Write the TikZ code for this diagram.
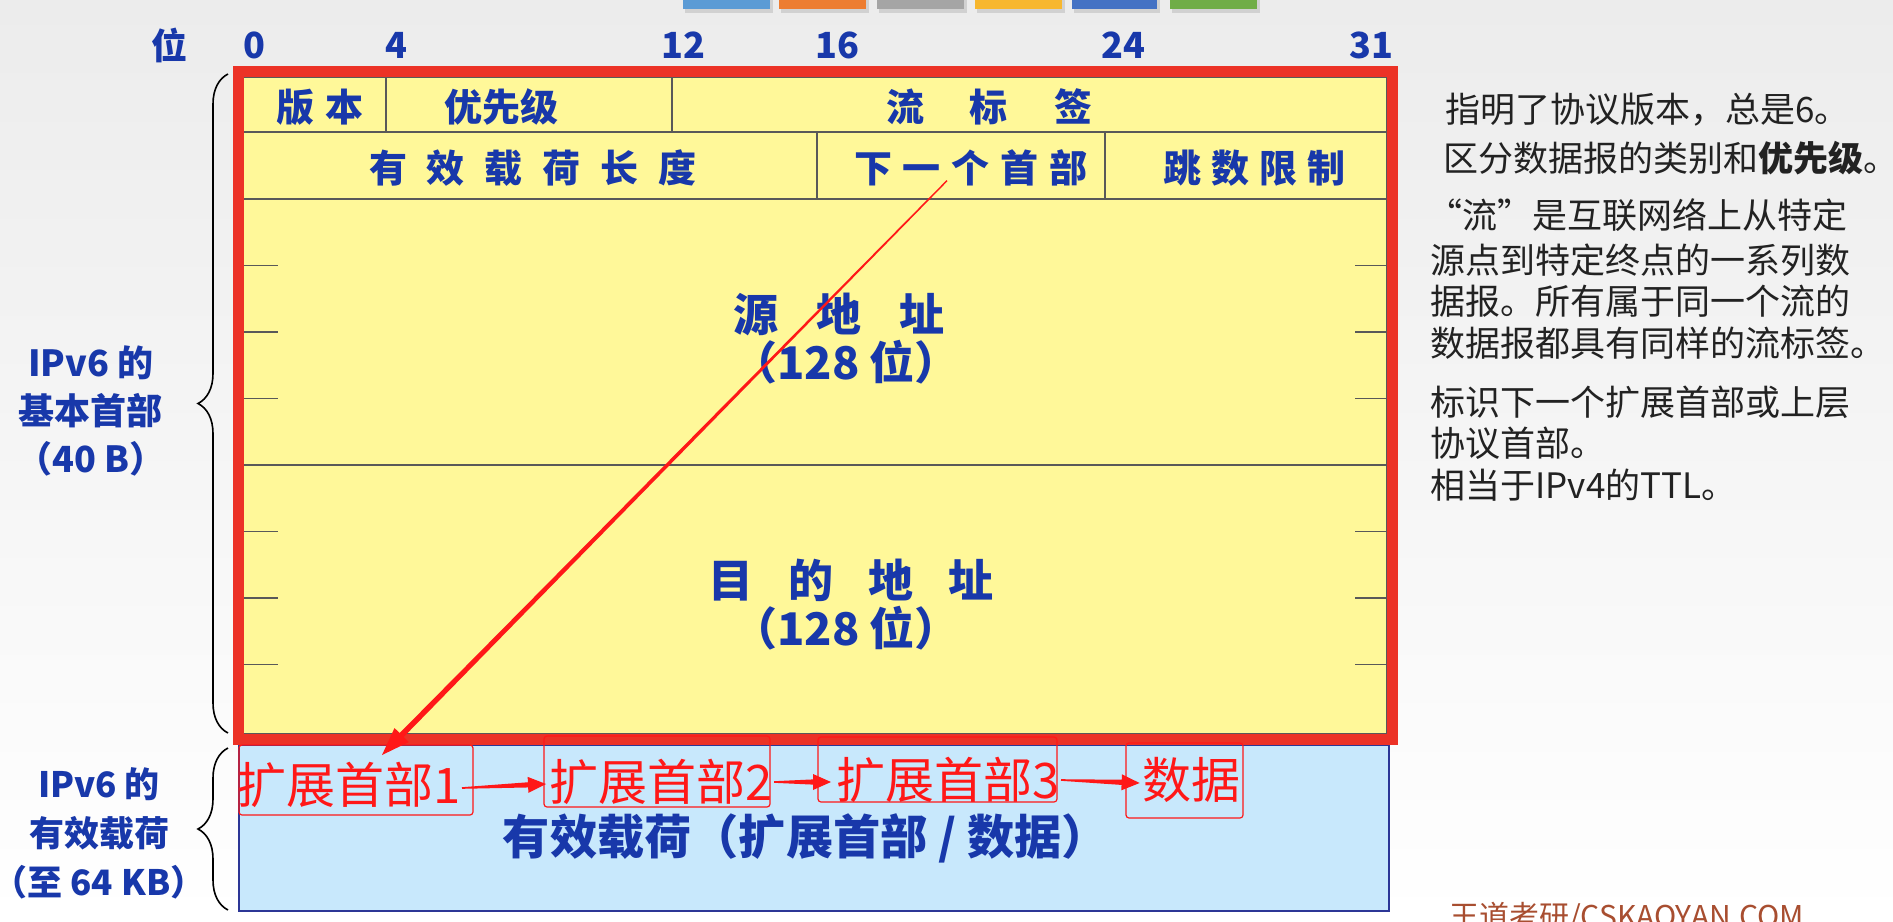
\documentclass[tikz,border=0pt]{standalone}
\usepackage{fontspec}
\setmainfont{Noto Sans CJK SC}
\usetikzlibrary{decorations.pathreplacing,calc}
\definecolor{hdrblue}{RGB}{24,56,170}
\definecolor{cellyellow}{RGB}{255,248,153}
\definecolor{framered}{RGB}{236,50,38}
\definecolor{payblue}{RGB}{200,232,252}
\definecolor{paynavy}{RGB}{44,54,150}
\definecolor{extred}{RGB}{255,24,24}
\definecolor{notegray}{RGB}{34,34,34}
\definecolor{footbrown}{RGB}{168,78,48}
\definecolor{bgtop}{RGB}{236,236,236}
\definecolor{tabA}{RGB}{91,155,213}
\definecolor{tabB}{RGB}{237,125,49}
\definecolor{tabC}{RGB}{165,165,165}
\definecolor{tabD}{RGB}{247,183,46}
\definecolor{tabE}{RGB}{68,114,196}
\definecolor{tabF}{RGB}{112,173,71}
\newcommand\mygap[1]{\hspace{#1}}
% start, end, start half width, base half width, head half width, head length
\newcommand\taperarrow[6]{%
  \coordinate (tabase) at ($(#2)!#6!(#1)$);
  \fill[extred] ($(#1)!#3!90:(#2)$) -- ($(tabase)!#4!90:(#2)$) -- ($(tabase)!#5!90:(#2)$)
    -- (#2) -- ($(tabase)!#5!-90:(#2)$) -- ($(tabase)!#4!-90:(#2)$) -- ($(#1)!#3!-90:(#2)$) -- cycle;
}
\begin{document}
\begin{tikzpicture}[x=0.5pt,y=-0.5pt,
  hdr/.style={font=\bfseries\fontsize{19pt}{22pt}\selectfont, text=hdrblue, inner sep=0},
  bitlbl/.style={font=\bfseries\fontsize{18pt}{20pt}\selectfont, text=hdrblue, inner sep=0},
  addr/.style={font=\bfseries\fontsize{22.5pt}{26pt}\selectfont, text=hdrblue, inner sep=0},
  sidelbl/.style={font=\bfseries\fontsize{18pt}{24pt}\selectfont, text=hdrblue, inner sep=0, align=center},
  note/.style={font=\fontsize{17.5pt}{21pt}\selectfont, text=notegray, inner sep=0, anchor=west},
  extbox/.style={draw=extred, line width=0.6pt, rounded corners=1.5pt, inner sep=0},
  exttxt/.style={font=\fontsize{24.5pt}{28pt}\selectfont, text=extred, inner sep=0},
  gridline/.style={draw=black!65, line width=0.6pt},
  tabshadow/.style={fill=black!30, opacity=0.45},
]
\useasboundingbox (0,0) rectangle (1893,921);
\shade[top color=bgtop, bottom color=white] (0,0) rectangle (1893,921);

% top tabs
\foreach \xa/\xb/\c in {683/770/tabA,779/866/tabB,877/964/tabC,975/1062/tabD,1072/1157/tabE,1170/1257/tabF}{
  \fill[tabshadow] (\xa+2,0) rectangle (\xb+3,13);
  \fill[\c] (\xa,0) rectangle (\xb,9);
}

% payload box
\draw[paynavy, line width=1.2pt, fill=payblue] (239,745) rectangle (1389,911);

% header table
\draw[gridline, fill=cellyellow] (243,77) rectangle (1387,734);
\draw[gridline] (243,132) -- (1387,132);
\draw[gridline] (243,199) -- (1387,199);
\draw[gridline] (243,465) -- (1387,465);
\draw[gridline] (386,77) -- (386,132);
\draw[gridline] (672,77) -- (672,132);
\draw[gridline] (817,132) -- (817,199);
\draw[gridline] (1105,132) -- (1105,199);
\foreach \y in {265.5,332,398.5,531.5,598,664.5}{
  \draw[gridline] (243,\y) -- (278,\y);
  \draw[gridline] (1355,\y) -- (1387,\y);
}
\draw[framered, line width=5.5pt] (238.5,71.5) rectangle (1392.5,739.5);

% bit labels
\node[bitlbl] (wei) at (169,45) {位};
\node[bitlbl] (b0) at (254,45) {0};
\node[bitlbl] (b4) at (396,45) {4};
\node[bitlbl] (b12) at (683,45) {12};
\node[bitlbl] (b16) at (837,45) {16};
\node[bitlbl] (b24) at (1123,45) {24};
\node[bitlbl] (b31) at (1371,45) {31};

% fields
\node[hdr] (ver) at (320,107) {版\mygap{6pt}本};
\node[hdr] (pri) at (501,107) {优先级};
\node[hdr] (flow) at (989,107) {流\mygap{23pt}标\mygap{23pt}签};
\node[hdr] (plen) at (533,168) {有\mygap{10pt}效\mygap{10pt}载\mygap{10pt}荷\mygap{10pt}长\mygap{10pt}度};
\node[hdr] (nh) at (971,168) {下\mygap{5.5pt}一\mygap{5.5pt}个\mygap{5.5pt}首\mygap{5.5pt}部};
\node[hdr] (hop) at (1254,168) {跳\mygap{5pt}数\mygap{5pt}限\mygap{5pt}制};
\node[addr] (src) at (839,314) {源\mygap{19pt}地\mygap{19pt}址};
\node[addr] (srcb) at (846,362) {（128 位）};
\node[addr] (dst) at (851,580) {目\mygap{17.5pt}的\mygap{17.5pt}地\mygap{17.5pt}址};
\node[addr] (dstb) at (846,628) {（128 位）};

% payload
\node[font=\bfseries\fontsize{23.6pt}{26pt}\selectfont, text=hdrblue, inner sep=0] (pay) at (806,838) {有效载荷（扩展首部 / 数据）};

% braces and side labels
\draw[black, line width=0.8pt, decorate, decoration={brace, amplitude=15pt}] (228,733) -- (228,74);
\draw[black, line width=0.8pt, decorate, decoration={brace, amplitude=15pt}] (228,910) -- (228,748);
\node[sidelbl] (lbl1) at (91,411) {IPv6 的\\基本首部\\（40 B）};
\node[sidelbl, font=\bfseries\fontsize{17.5pt}{24.5pt}\selectfont] (lbl2) at (99,833) {IPv6 的\\有效载荷\\\makebox[0.62em][r]{（}至 64 KB\makebox[0.62em][l]{）}};

% notes
\node[note] (n1) at (1445,110) {指明了协议版本，总是6。};
\node[note] (n2) at (1443,158) {区分数据报的类别和{\bfseries 优先级}\makebox[0.4em][l]{。}};
\node[note] (n3) at (1427,215) {“流”是互联网络上从特定};
\node[note] (n4) at (1430,260) {源点到特定终点的一系列数};
\node[note] (n5) at (1430,301) {据报。所有属于同一个流的};
\node[note] (n6) at (1430,343) {数据报都具有同样的流标签。};
\node[note] (n7) at (1430,402) {标识下一个扩展首部或上层};
\node[note] (n8) at (1430,443) {协议首部。};
\node[note] (n9) at (1430,485) {相当于IPv4的TTL。};

% footer (cut by the lower edge, as in the original)
\node[font=\fontsize{15pt}{18pt}\selectfont, text=footbrown, inner sep=0, anchor=north west] (foot) at (1449,902) {王道考研/CSKAOYAN.COM};

% extension header boxes
\node[extbox, minimum width=117pt, minimum height=35pt] (x1) at (356,780) {};
\node[extbox, minimum width=113pt, minimum height=35.5pt] (x2) at (657,771.5) {};
\node[extbox, minimum width=119.5pt, minimum height=32.5pt] (x3) at (937.5,769.5) {};
\node[extbox, minimum width=58.5pt, minimum height=37.5pt] (x4) at (1184.5,780.5) {};
\node[exttxt] (t1) at (349,785) {扩展首部1};
\node[exttxt] (t2) at (661,782) {扩展首部2};
\node[exttxt] (t3) at (948,780) {扩展首部3};
\node[exttxt] (t4) at (1191,780) {数据};

% arrows
\coordinate (a1s) at ($(t1.east)+(1,3)$);
\coordinate (a1e) at ($(t2.west)+(-3,2)$);
\coordinate (a2s) at ($(t2.east)+(1,0)$);
\coordinate (a2e) at ($(t3.west)+(-5,2)$);
\coordinate (a3s) at ($(t3.east)+(1,0)$);
\coordinate (a3e) at ($(t4.west)+(-2,3)$);
\taperarrow{a1s}{a1e}{0.4pt}{1.3pt}{4pt}{9pt}
\taperarrow{a2s}{a2e}{0.4pt}{1.3pt}{4pt}{9pt}
\taperarrow{a3s}{a3e}{0.4pt}{1.3pt}{4pt}{9pt}
\coordinate (dtop) at ($(nh.south)+(-24,-6)$);
\coordinate (dtip) at (382,755);
\taperarrow{dtop}{dtip}{0.35pt}{1.4pt}{5pt}{14pt}
\end{tikzpicture}
\end{document}
